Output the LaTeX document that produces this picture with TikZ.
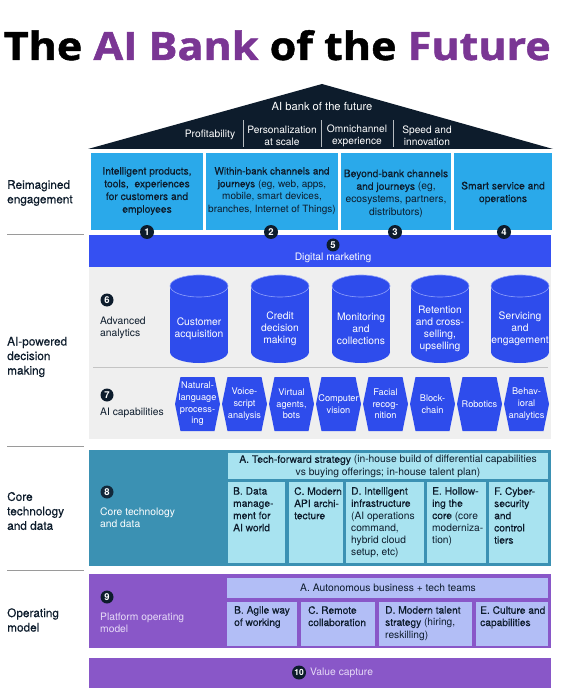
\documentclass[tikz,border=0pt]{standalone}
\usepackage{fontspec}
\usepackage{graphicx}
\setmainfont{TeX Gyre Heros}
\newfontfamily\medfont[FakeBold=0.35]{TeX Gyre Heros}
\newfontfamily\titlefont[BoldFeatures={FakeBold=1.2}]{Open Sans}
\definecolor{ink}{HTML}{0D1C2C}
\definecolor{titlepurple}{HTML}{7A3694}
\definecolor{engblue}{HTML}{2AA9EA}
\definecolor{dmblue}{HTML}{3550F2}
\definecolor{cylblue}{HTML}{2E4CEC}
\definecolor{cyledge}{HTML}{8FA0FA}
\definecolor{panelgray}{HTML}{EFEFEF}
\definecolor{divgray}{HTML}{C4C4C4}
\definecolor{teal}{HTML}{3B91B3}
\definecolor{lightcyan}{HTML}{A8E3F0}
\definecolor{purp}{HTML}{8957C8}
\definecolor{lav}{HTML}{B2BEF6}
\definecolor{lavtext}{HTML}{E6DAF7}
\definecolor{sepgray}{HTML}{9A9A9A}
\tikzset{
  txt/.style={inner sep=0, align=center, text=ink, font=\fontsize{10.3}{12.7}\selectfont},
  lbl/.style={inner sep=0, align=left, anchor=west, text=ink, font=\fontsize{11.8}{14.5}\selectfont\medfont},
  badge/.style={circle, fill=ink, text=white, inner sep=0, minimum size=13, font=\fontsize{9.5}{9.5}\selectfont\bfseries},
  rbox/.style={inner sep=0, anchor=north west, draw=none},
  ctext/.style={inner sep=0, align=center, text=white, font=\fontsize{10.3}{12}\selectfont},
  htext/.style={inner sep=0, align=center, text=white, font=\fontsize{9.2}{11.7}\selectfont},
  ltext/.style={inner sep=0, align=left, anchor=north west, text=ink, font=\fontsize{10.2}{12.2}\selectfont},
}
\begin{document}
\begin{tikzpicture}[x=1pt,y=-1pt]
\useasboundingbox (0,0) rectangle (562,692);
\fill[white] (0,0) rectangle (562,692);

% title
\node[anchor=base west, inner sep=0] (title) at (3.5,60)
  {\resizebox{547pt}{\height}{\fontsize{39}{39}\selectfont\titlefont\bfseries The {\color{titlepurple}AI Bank} of the {\color{titlepurple}Future}}};

% roof
\fill[ink] (88,149) -- (322,84) -- (553,149) -- cycle;
\node[txt, text=white, font=\fontsize{11.2}{13}\selectfont] (rooftitle) at (322,106) {AI bank of the future};
\node[txt, text=white] (p1) at (210,135) {Profitability};
\node[txt, text=white, font=\fontsize{10.2}{12}\selectfont] (p2) at (282,136) {Personalization\\at scale};
\node[txt, text=white, font=\fontsize{10.2}{12}\selectfont] (p3) at (357,136) {Omnichannel\\experience};
\node[txt, text=white, font=\fontsize{10.2}{12}\selectfont] (p4) at (427,136) {Speed and\\innovation};
\foreach \sx in {243,321,393} \draw[white!70!ink, line width=0.6] (\sx,120) -- (\sx,147);

% left separators
\foreach \sy in {234,446,570} \draw[sepgray, line width=0.7] (7,\sy) -- (84,\sy);

% left labels
\node[lbl] (L1) at (7,193) {Reimagined\\engagement};
\node[lbl] (L2) at (7,357) {AI-powered\\decision\\making};
\node[lbl] (L3) at (7,511) {Core\\technology\\and data};
\node[lbl] (L4) at (7,620) {Operating\\model};

% engagement boxes
\node[rbox, fill=engblue, minimum width=112, minimum height=77] (e1) at (91,153) {};
\node[rbox, fill=engblue, minimum width=132, minimum height=77] (e2) at (206,153) {};
\node[rbox, fill=engblue, minimum width=110, minimum height=77] (e3) at (341,153) {};
\node[rbox, fill=engblue, minimum width=98, minimum height=77] (e4) at (454,153) {};
\node[txt] (t1) at (147,191) {{\medfont Intelligent products,}\\{\medfont tools,\ \ experiences}\\{\medfont for customers and}\\{\medfont employees}};
\node[txt, font=\fontsize{10}{12.7}\selectfont] (t2) at (272,191) {{\medfont Within-bank channels and}\\{\medfont journeys} (eg, web, apps,\\mobile, smart devices,\\branches, Internet of Things)};
\node[txt] (t3) at (396,193.5) {{\medfont Beyond-bank channels}\\{\medfont and journeys} (eg,\\ecosystems, partners,\\distributors)};
\node[txt] (t4) at (503,193) {{\medfont Smart service and}\\{\medfont operations}};

% digital marketing
\node[rbox, fill=dmblue, minimum width=462, minimum height=32] (dm) at (89,235) {};
\node[badge, minimum size=14] (b1) at (147,232) {1};
\node[badge, minimum size=14] (b2) at (271,232) {2};
\node[badge, minimum size=14] (b3) at (395,232) {3};
\node[badge, minimum size=14] (b4) at (504,232) {4};
\node[badge] (b5) at (333,245) {5};
\node[ctext] (dmt) at (333,257.5) {Digital marketing};

% analytics panel
\node[rbox, fill=panelgray, minimum width=462, minimum height=172] (gp) at (89,267) {};
\draw[divgray, line width=1] (93,367) -- (548,367);
\node[badge] (b6) at (107,300) {6};
\node[txt, anchor=west, align=left, font=\fontsize{10.3}{12}\selectfont] (aa) at (100,327.5) {Advanced\\analytics};
\foreach \cx/\nm/\t in {199/cyA/{Customer\\acquisition}, 280/cyB/{Credit\\decision\\making}, 361/cyC/{Monitoring\\and\\collections}, 440/cyD/{Retention\\and cross-\\selling,\\upselling}, 520/cyE/{Servicing\\and\\engagement}} {
  \fill[cylblue] (\cx-29,286) rectangle (\cx+29,352);
  \fill[cylblue] (\cx,352) ellipse [x radius=29, y radius=11];
  \filldraw[fill=cylblue, draw=cyledge, line width=0.6] (\cx,286) ellipse [x radius=29, y radius=11];
  \node[ctext] (\nm) at (\cx,329) {\t};
}
\node[badge] (b7) at (107,395) {7};
\node[txt, anchor=west, align=left] (aic) at (100,413) {AI capabilities};
\foreach \i/\t in {0/{Natural-\\language\\process-\\ing}, 1/{Voice-\\script\\analysis}, 2/{Virtual\\agents,\\bots}, 3/{Computer\\vision}, 4/{Facial\\recog-\\nition}, 5/{Block-\\chain}, 6/{Robotics}, 7/{Behav-\\ioral\\analytics}} {
  \pgfmathsetmacro\cx{197.5+47*\i}
  \fill[cylblue] (\cx-22.5,404) -- (\cx-17,377) -- (\cx+17,377) -- (\cx+22.5,404) -- (\cx+17,431) -- (\cx-17,431) -- cycle;
  \node[htext] (hex\i) at (\cx,404) {\t};
}

% core technology
\node[rbox, fill=teal, minimum width=462, minimum height=116] (core) at (89,450) {};
\node[rbox, fill=lightcyan, minimum width=320, minimum height=26] (cA) at (228,453) {};
\node[txt] (cAt) at (388,466.5) {{\medfont A. Tech-forward strategy} (in-house build of differential capabilities\\vs buying offerings; in-house talent plan)};
\node[rbox, fill=lightcyan, minimum width=57, minimum height=81] (cB) at (228,482) {};
\node[rbox, fill=lightcyan, minimum width=54, minimum height=81] (cC) at (289,482) {};
\node[rbox, fill=lightcyan, minimum width=78, minimum height=81] (cD) at (346,482) {};
\node[rbox, fill=lightcyan, minimum width=59, minimum height=81] (cE) at (427,482) {};
\node[rbox, fill=lightcyan, minimum width=59, minimum height=81] (cF) at (489,482) {};
\node[ltext] (cBt) at (233,487) {{\medfont B. Data}\\{\medfont manage-}\\{\medfont ment for}\\{\medfont AI world}};
\node[ltext] (cCt) at (294,487) {{\medfont C. Modern}\\{\medfont API archi-}\\{\medfont tecture}};
\node[ltext] (cDt) at (351,487) {{\medfont D. Intelligent}\\{\medfont infrastructure}\\(AI operations\\command,\\hybrid cloud\\setup, etc)};
\node[ltext] (cEt) at (432,487) {{\medfont E. Hollow-}\\{\medfont ing the}\\{\medfont core} (core\\moderniza-\\tion)};
\node[ltext] (cFt) at (494,487) {{\medfont F. Cyber-}\\{\medfont security}\\{\medfont and}\\{\medfont control}\\{\medfont tiers}};
\node[badge, fill=ink!90!teal] (b8) at (107,492) {8};
\node[ctext, anchor=west, align=left] (coret) at (100,518) {Core technology\\and data};

% operating model
\node[rbox, fill=purp, minimum width=462, minimum height=74] (om) at (89,574) {};
\node[rbox, fill=lav, minimum width=321, minimum height=20] (oA) at (227,578) {};
\node[txt] (oAt) at (388,588) {A. Autonomous business + tech teams};
\node[rbox, fill=lav, minimum width=70, minimum height=44] (oB) at (227,602) {};
\node[rbox, fill=lav, minimum width=74, minimum height=44] (oC) at (301,602) {};
\node[rbox, fill=lav, minimum width=93, minimum height=44] (oD) at (379,602) {};
\node[rbox, fill=lav, minimum width=72, minimum height=44] (oE) at (476,602) {};
\node[ltext] (oBt) at (234,606) {{\medfont B. Agile way}\\{\medfont of working}};
\node[ltext] (oCt) at (308,606) {{\medfont C. Remote}\\{\medfont collaboration}};
\node[ltext] (oDt) at (385,606) {{\medfont D. Modern talent}\\{\medfont strategy} (hiring,\\reskilling)};
\node[ltext] (oEt) at (480,606) {{\medfont E. Culture and}\\{\medfont capabilities}};
\node[badge] (b9) at (107,597) {9};
\node[ctext, anchor=west, align=left, text=lavtext] (omt) at (100,623) {Platform operating\\model};

% value capture
\node[rbox, fill=purp, minimum width=462, minimum height=30] (vc) at (89,657.5) {};
\node[badge, minimum size=14, font=\fontsize{8.5}{8.5}\selectfont\bfseries] (b10) at (299,672.5) {10};
\node[ctext, anchor=west, text=lavtext] (vct) at (310,672.5) {Value capture};
\end{tikzpicture}
\end{document}
